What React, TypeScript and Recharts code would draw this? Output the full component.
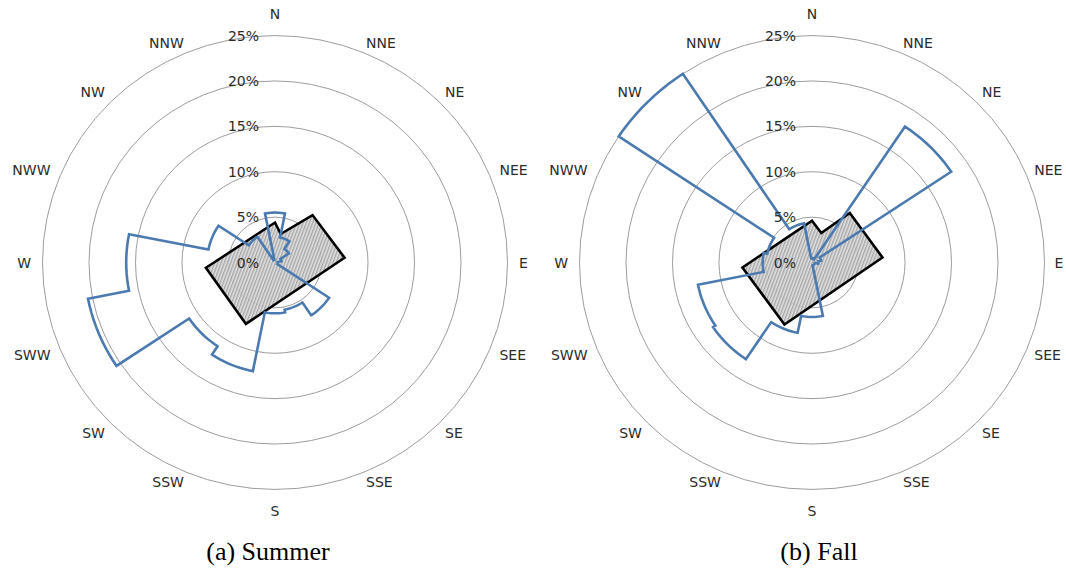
import React from 'react';
import { RadarChart, Radar, PolarGrid, PolarAngleAxis, PolarRadiusAxis } from 'recharts';

// ---- data ----
const DIRECTIONS = ['N', 'NNE', 'NE', 'NEE', 'E', 'SEE', 'SE', 'SSE', 'S', 'SSW', 'SW', 'SWW', 'W', 'NWW', 'NW', 'NNW'];
const RADIUS_TICKS = [0, 5, 10, 15, 20, 25];

// wind frequency (%) per 22.5° sector, order N, NNE, ... NNW
const SUMMER_FREQ = [5.5, 2.8, 1.8, 0.7, 0.3, 0.3, 7.0, 5.3, 5.6, 12.2, 11.1, 20.5, 16.0, 7.3, 3.4, 0.3];
const FALL_FREQ = [0.5, 0.4, 18.0, 1.0, 0.7, 0.3, 0.3, 0.3, 6.0, 7.9, 12.8, 12.5, 5.3, 4.9, 25.0, 4.4];

// hatched outline polygon: vertex bearings (deg) and radii (%)
const SUMMER_OUTLINE_ANGLE = [0, 11, 37.7, 86, 204.8, 265.5];
const SUMMER_OUTLINE_VALUE = [4.4, 3.2, 6.6, 7.5, 7.45, 7.45];
const FALL_OUTLINE_ANGLE = [0, 17, 36.7, 85.8, 203.4, 265.8];
const FALL_OUTLINE_VALUE = [4.6, 3.4, 6.8, 7.6, 7.45, 7.5];

// ---- layout ----
const PAGE_W = 1066;
const PANEL_W = 540;
const PANEL_H = 540;
const CX = 275;
const CY = 262.5;
const R = 232.5;
const SY = 0.976;
const SECTOR = 22.5;
const ARC_STEPS = 10;
const FONT_SIZE = 14;

const LABEL_FONT = "'DejaVu Sans', 'Noto Sans', sans-serif";

function buildWindRows(freq: number[]) {
  const rows: { angle: number; value: number }[] = [];
  const pushArc = (from: number, to: number, v: number) => {
    for (let k = 0; k <= ARC_STEPS; k++) rows.push({ angle: from + ((to - from) * k) / ARC_STEPS, value: v });
  };
  pushArc(0, SECTOR / 2, freq[0]);
  for (let i = 1; i < freq.length; i++) pushArc(i * SECTOR - SECTOR / 2, i * SECTOR + SECTOR / 2, freq[i]);
  pushArc(360 - SECTOR / 2, 360, freq[0]);
  return rows;
}

function makeAngleTick(panelLeft: number) {
  return function AngleTick(props: any) {
    const { payload } = props;
    const a = (payload.coordinate * Math.PI) / 180;
    const ux = Math.cos(a);
    const uy = -Math.sin(a);
    let x: number;
    let y: number;
    let anchor: 'start' | 'middle' | 'end';
    if (Math.abs(ux) < 0.05) {
      x = CX;
      y = CY + uy * 248.5;
      anchor = 'middle';
    } else {
      const r = 237 + 7 * ux * ux;
      x = CX + ux * r;
      y = CY + uy * r;
      anchor = ux > 0 ? 'start' : 'end';
      if (anchor === 'start') {
        const estWidth = String(payload.value).length * FONT_SIZE * 0.72;
        x = Math.min(x, PAGE_W - 1.5 - panelLeft - estWidth);
      }
    }
    return (
      <text x={x} y={y} textAnchor={anchor} dominantBaseline="central" fontFamily={LABEL_FONT} fontSize={FONT_SIZE} fill="#2b2b2b">
        {payload.value}
      </text>
    );
  };
}

function RadiusTick(props: any) {
  const { x, y, payload } = props;
  const yy = CY + (y - CY) * SY;
  return (
    <text x={x - 16} y={yy} textAnchor="end" dominantBaseline="central" fontFamily={LABEL_FONT} fontSize={FONT_SIZE} fill="#2b2b2b">
      {`${payload.value}%`}
    </text>
  );
}

function Panel({ left, freq, outlineAngles, outlineValues }: { left: number; freq: number[]; outlineAngles: number[]; outlineValues: number[] }) {
  const windRows = buildWindRows(freq);
  const outlineRows = outlineAngles.map((a, i) => ({ angle: a, value: outlineValues[i] }));
  const labelRows = DIRECTIONS.map((d) => ({ dir: d, zero: 0 }));
  const chartProps = {
    width: PANEL_W,
    height: PANEL_H,
    cx: CX,
    cy: CY,
    innerRadius: 0,
    outerRadius: R,
    startAngle: 90,
    endAngle: -270,
    margin: { top: 0, right: 0, bottom: 0, left: 0 },
  };
  const layer: React.CSSProperties = { position: 'absolute', left: 0, top: 0 };
  const AngleTick = makeAngleTick(left);
  return (
    <div style={{ position: 'absolute', left, top: 0, width: PANEL_W, height: PANEL_H }}>
      <div
        style={{
          position: 'absolute',
          left: 0,
          top: 0,
          width: PANEL_W,
          height: PANEL_H,
          transform: `scaleY(${SY})`,
          transformOrigin: `${CX}px ${CY}px`,
        }}
      >
        <div style={layer}>
          <RadarChart {...chartProps} data={outlineRows}>
            <PolarGrid gridType="circle" radialLines={false} stroke="#9a9a9a" strokeWidth={1} />
            <PolarAngleAxis dataKey="angle" type="number" domain={[0, 360]} tick={false} axisLine={false} tickLine={false} />
            <PolarRadiusAxis type="number" domain={[0, 25]} ticks={RADIUS_TICKS} tick={false} axisLine={false} />
            <Radar
              dataKey="value"
              stroke="#000"
              strokeWidth={2.6}
              fill="url(#hatch)"
              fillOpacity={0.9}
              dot={false}
              isAnimationActive={false}
            />
          </RadarChart>
        </div>
        <div style={layer}>
          <RadarChart {...chartProps} data={windRows}>
            <PolarAngleAxis dataKey="angle" type="number" domain={[0, 360]} tick={false} axisLine={false} tickLine={false} />
            <PolarRadiusAxis type="number" domain={[0, 25]} ticks={RADIUS_TICKS} tick={false} axisLine={false} />
            <Radar dataKey="value" stroke="#4a7ab0" strokeWidth={2.6} fill="none" dot={false} isAnimationActive={false} />
          </RadarChart>
        </div>
      </div>
      <div style={layer}>
        <RadarChart {...chartProps} data={labelRows}>
          <PolarAngleAxis dataKey="dir" tick={AngleTick} axisLine={false} tickLine={false} />
          <PolarRadiusAxis angle={90} type="number" domain={[0, 25]} ticks={RADIUS_TICKS} tick={RadiusTick} axisLine={false} />
          <Radar dataKey="zero" stroke="none" fill="none" dot={false} isAnimationActive={false} />
        </RadarChart>
      </div>
    </div>
  );
}

export default function App() {
  return (
    <div style={{ position: 'absolute', left: 0, top: 0, width: PAGE_W, height: 570, overflow: 'hidden', background: '#fff' }}>
      <svg width={0} height={0} style={{ position: 'absolute' }}>
        <defs>
          <pattern id="hatch" patternUnits="userSpaceOnUse" width={3} height={3} patternTransform="rotate(20)">
            <rect width={3} height={3} fill="#dedede" />
            <line x1={0.75} y1={0} x2={0.75} y2={3} stroke="#8a8a8a" strokeWidth={1.1} />
          </pattern>
        </defs>
      </svg>
      <Panel left={0} freq={SUMMER_FREQ} outlineAngles={SUMMER_OUTLINE_ANGLE} outlineValues={SUMMER_OUTLINE_VALUE} />
      <Panel left={537} freq={FALL_FREQ} outlineAngles={FALL_OUTLINE_ANGLE} outlineValues={FALL_OUTLINE_VALUE} />
      <svg width={PAGE_W} height={570} style={{ position: 'absolute', left: 0, top: 0 }}>
        <text x={268} y={560} textAnchor="middle" fontFamily="'Liberation Serif', 'Times New Roman', serif" fontSize={26} fill="#000">
          (a) Summer
        </text>
        <text x={819} y={560} textAnchor="middle" fontFamily="'Liberation Serif', 'Times New Roman', serif" fontSize={26} fill="#000">
          (b) Fall
        </text>
      </svg>
    </div>
  );
}
